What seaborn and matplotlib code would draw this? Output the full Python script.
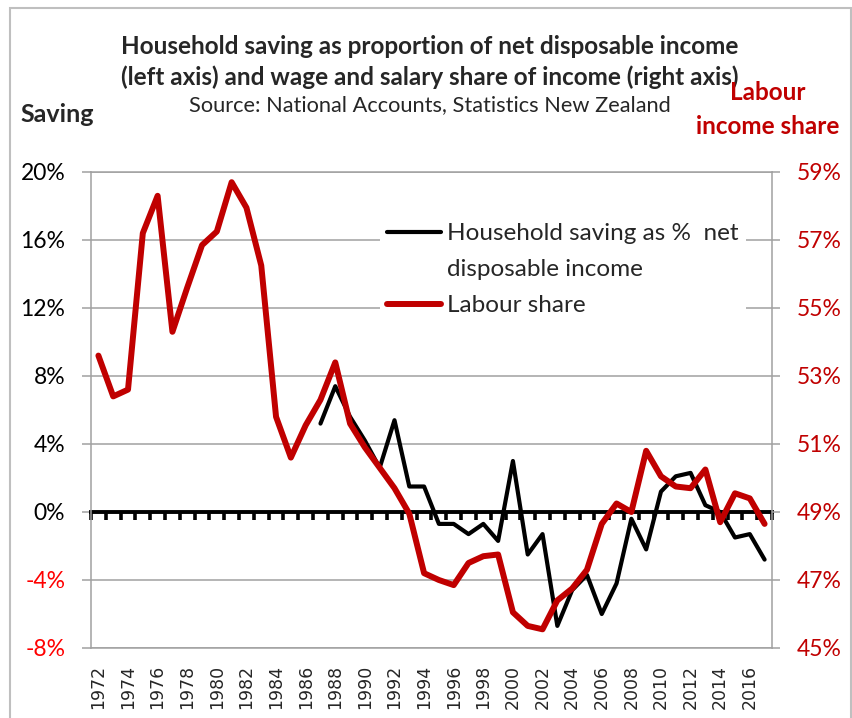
import matplotlib
matplotlib.use("Agg")
import matplotlib.pyplot as plt
from matplotlib.lines import Line2D
from matplotlib.patches import Rectangle
import seaborn as sns

# ---------------------------------------------------------------------------
# Data
# ---------------------------------------------------------------------------

years = list(range(1972, 2018))
labour_share = [
    53.6, 52.4, 52.6, 57.2, 58.3, 54.3, 55.6, 56.85, 57.25, 58.7,
    57.95, 56.25, 51.8, 50.6, 51.55, 52.3, 53.4, 51.6, 50.9, 50.3,
    49.7, 48.95, 47.2, 47.0, 46.85, 47.5, 47.7, 47.75, 46.05, 45.65,
    45.55, 46.4, 46.75, 47.3, 48.65, 49.25, 49.0, 50.8, 50.05, 49.75,
    49.7, 50.25, 48.7, 49.55, 49.4, 48.65,
]

saving_years = list(range(1987, 2018))
household_saving = [
    5.2, 7.4, 5.6, 4.2, 2.6, 5.4, 1.5, 1.5, -0.7, -0.7,
    -1.3, -0.7, -1.7, 3.0, -2.5, -1.3, -6.7, -4.6, -3.7, -6.0,
    -4.2, -0.4, -2.2, 1.2, 2.1, 2.3, 0.4, 0.0, -1.5, -1.3,
    -2.8,
]

left_ticks = [-8, -4, 0, 4, 8, 12, 16, 20]
right_ticks = [45, 47, 49, 51, 53, 55, 57, 59]
year_ticks = list(range(1972, 2017, 2))

DARK_RED = "#C00000"
NEG_RED = "#FF0000"
GRID = "#A0A0A0"
W, H = 853, 718

sns.set_theme(style="white")
plt.rcParams["font.family"] = ["Lato", "DejaVu Sans"]

fig = plt.figure(figsize=(W / 100, H / 100), dpi=100)
ax = fig.add_axes([91 / W, 1 - 648 / H, 681 / W, 476 / H])
ax2 = ax.twinx()

sns.lineplot(x=saving_years, y=household_saving, ax=ax,
             color="black", lw=3.0, zorder=3)
sns.lineplot(x=years, y=labour_share, ax=ax2, color=DARK_RED, lw=4.3)

# left axis: saving
ax.set_xlim(years[0] - 0.5, years[-1] + 0.5)
ax.set_ylim(left_ticks[0], left_ticks[-1])
ax.set_yticks(left_ticks, labels=[f"{v}%" for v in left_ticks])
for v, lab in zip(left_ticks, ax.get_yticklabels()):
    lab.set_color(NEG_RED if v < 0 else "black")
ax.set_xticks(year_ticks, labels=[str(y) for y in year_ticks],
              rotation=90, fontfamily="DejaVu Sans", fontsize=12.5)
ax.tick_params(axis="x", bottom=False, length=0, pad=12)
ax.tick_params(axis="y", left=True, length=6.5, width=1.1, color=GRID,
               pad=12, labelsize=16.5)
ax.grid(axis="y", color=GRID, lw=1.1)
ax.grid(axis="x", visible=False)
ax.set_axisbelow(True)
ax.set_xlabel("")
ax.set_ylabel("")
for sp in ax.spines.values():
    sp.set_color(GRID)
    sp.set_linewidth(1.1)

# right axis: labour share
ax2.set_ylim(right_ticks[0], right_ticks[-1])
ax2.set_yticks(right_ticks, labels=[f"{v}%" for v in right_ticks])
ax2.tick_params(axis="y", right=True, length=5.5, width=1.1, color=GRID,
                pad=12, labelsize=16.5, labelcolor=DARK_RED)
ax2.grid(False)
ax2.set_ylabel("")
for sp in ax2.spines.values():
    sp.set_visible(False)

# zero line with category tick marks (Excel-style axis crossing at 0)
zero_pos = (0 - left_ticks[0]) / (left_ticks[-1] - left_ticks[0])
sec = ax.secondary_xaxis(zero_pos)
sec.set_zorder(1)  # above the gridlines, below the series
sec.set_xticks([y - 0.5 for y in years] + [years[-1] + 0.5])
sec.tick_params(axis="x", bottom=True, direction="out", length=5.5, width=2.6,
                color="black", labelbottom=False)
sec.spines["bottom"].set_color("black")
sec.spines["bottom"].set_linewidth(2.8)

# legend
handles = [
    Line2D([], [], color="black", lw=3.0),
    Line2D([], [], color="none"),
    Line2D([], [], color=DARK_RED, lw=4.3),
]
labels = ["Household saving as %  net", "disposable income", "Labour share"]
ax2.legend(handles, labels, loc="upper left",
           bbox_to_anchor=(380 / W, 1 - 216 / H), bbox_transform=fig.transFigure,
           frameon=True, fancybox=False, framealpha=1, edgecolor="none",
           facecolor="white", fontsize=17.5, handlelength=2.2,
           handletextpad=0.25, labelspacing=0.62, borderpad=0.3,
           borderaxespad=0)

# titles and axis captions
cx = 430 / W
fig.text(cx, 1 - 46 / H, "Household saving as proportion of net disposable income",
         ha="center", va="center", fontsize=17.5, fontweight="bold")
fig.text(cx, 1 - 77 / H, "(left axis) and wage and salary share of income (right axis)",
         ha="center", va="center", fontsize=17.5, fontweight="bold")
fig.text(cx, 1 - 105 / H, "Source: National Accounts, Statistics New Zealand",
         ha="center", va="center", fontsize=15.7)
fig.text(20 / W, 1 - 115 / H, "Saving", ha="left", va="center",
         fontsize=18, fontweight="bold")
fig.text(768 / W, 1 - 93 / H, "Labour", ha="center", va="center",
         fontsize=17.5, fontweight="bold", color=DARK_RED)
fig.text(768 / W, 1 - 127 / H, "income share", ha="center", va="center",
         fontsize=17.5, fontweight="bold", color=DARK_RED)

# chart-area border
fig.patches.append(Rectangle((10 / W, -0.05), (851 - 10) / W, 1.05 - 8 / H,
                             transform=fig.transFigure, fill=False,
                             edgecolor="#BFBFBF", lw=1.5))

fig.savefig("out.png", dpi=100)
